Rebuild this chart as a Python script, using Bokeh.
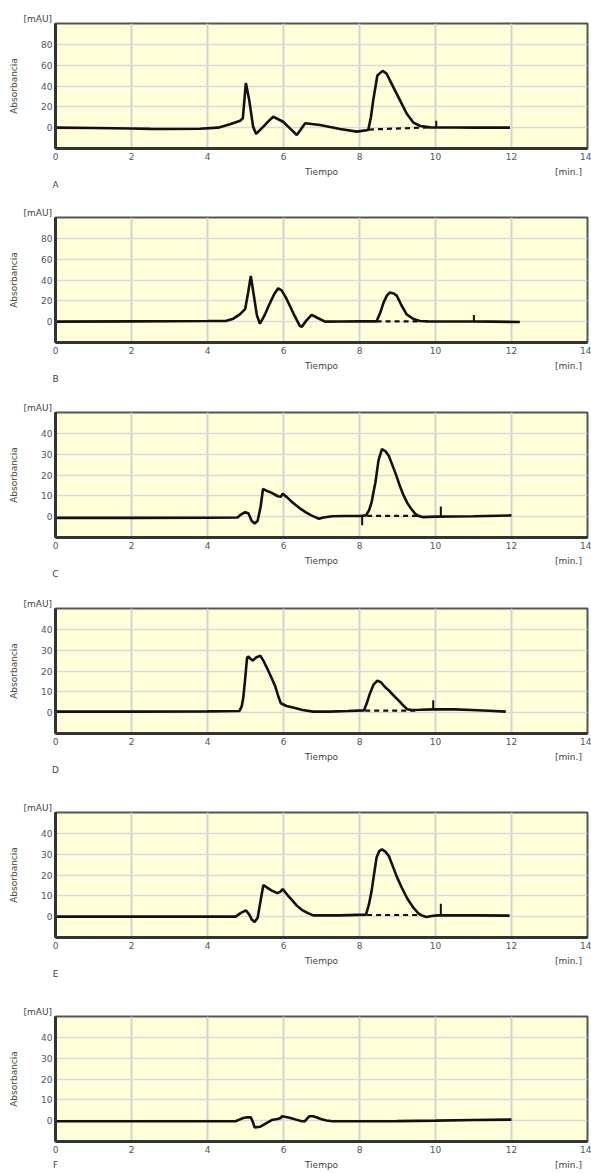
from bokeh.plotting import figure
from bokeh.layouts import column
from bokeh.models import Range1d, FixedTicker, LinearAxis, Title
from bokeh.embed import file_html
from bokeh.resources import INLINE

# ---------------- data ----------------
panel_letters = ["A", "B", "C", "D", "E", "F"]
x_ticks = [0, 2, 4, 6, 8, 10, 12, 14]
y_ticks_big = [0, 20, 40, 60, 80]
y_ticks_small = [0, 10, 20, 30, 40]
x_title = "Tiempo"
x_unit = "[min.]"
y_title = "Absorbancia"
y_unit = "[mAU]"

a_time = [0, 1, 2, 2.5, 3, 3.8, 4.28, 4.59, 4.86, 4.93, 5.01, 5.10, 5.20, 5.28, 5.47, 5.60, 5.73, 5.99,
          6.15, 6.33, 6.35, 6.45, 6.57, 6.96, 7.49, 7.93, 8.23, 8.30, 8.36, 8.47, 8.61, 8.71, 8.89,
          9.07, 9.24, 9.42, 9.60, 9.86, 10.5, 11.0, 11.5, 11.96]
a_abs = [0, -0.3, -0.8, -1.2, -1.3, -1.0, 0, 3.2, 6.7, 9, 43, 26, 1, -6, 1, 6, 10.5, 5.7,
         0, -6.3, -7, -2, 4.2, 2.5, -1.3, -3.8, -2.2, 10, 26, 50, 54.5, 52, 39,
         26, 13.6, 4.8, 1.6, 0.3, 0.1, 0, 0, 0]
a_base_x = [8.25, 9.85]
a_base_y = [-1.8, 0.3]
a_mark_x = [10.02]
a_mark_bot = [0.2]
a_mark_top = [6.7]

b_time = [0, 2, 4, 4.5, 4.68, 4.85, 4.99, 5.07, 5.14, 5.22, 5.30, 5.38, 5.50, 5.62, 5.75, 5.86, 5.95,
          6.05, 6.17, 6.30, 6.43, 6.48, 6.60, 6.74, 6.90, 7.09, 7.5, 8.0, 8.45, 8.55, 8.63, 8.72,
          8.80, 8.90, 8.98, 9.10, 9.24, 9.42, 9.59, 9.80, 10.5, 11.0, 11.5, 12.22]
b_abs = [0, 0.3, 0.6, 0.8, 2.9, 7, 12, 28, 44, 25, 6, -2, 6, 16, 26, 32, 30,
         24, 15, 5, -4, -5, 1, 6.5, 3.5, 0, 0.2, 0.3, 0.3, 9, 18, 25,
         28, 27, 25, 16, 7, 2.6, 0.7, 0.3, 0.2, 0.2, 0, -0.3]
b_base_x = [8.45, 9.6]
b_base_y = [0.3, 0.3]
b_mark_x = [11.01]
b_mark_bot = [0.2]
b_mark_top = [6.5]

c_time = [0, 2, 4, 4.79, 4.88, 4.99, 5.08, 5.16, 5.24, 5.32, 5.40, 5.46, 5.55, 5.69, 5.85, 5.93,
          5.98, 6.08, 6.18, 6.28, 6.43, 6.58, 6.73, 6.88, 6.93, 7.05, 7.28, 7.6, 8.02, 8.17, 8.25,
          8.32, 8.37, 8.42, 8.50, 8.59, 8.68, 8.77, 8.87, 8.97, 9.06, 9.16, 9.26, 9.36, 9.46, 9.56,
          9.66, 10.0, 11.0, 12.0]
c_abs = [-0.6, -0.6, -0.5, -0.4, 1, 2.2, 1.5, -2, -3.3, -2, 5, 13.3, 12.5, 11.4, 9.8, 9.6,
         11, 9.5, 7.8, 6.2, 4, 2.2, 0.6, -0.6, -1, -0.4, 0.2, 0.3, 0.3, 0.6, 3,
         7, 12, 16.5, 27, 32.4, 31.5, 29.2, 24.5, 19.7, 14.8, 10.2, 6.5, 3.8, 1.5, 0.3,
         -0.2, 0, 0.2, 0.6]
c_base_x = [8.2, 9.6]
c_base_y = [0.4, 0.4]
c_mark_x = [8.07, 10.14]
c_mark_bot = [-4.1, 0.1]
c_mark_top = [0.3, 4.9]

d_time = [0, 2, 4, 4.84, 4.90, 4.94, 4.99, 5.04, 5.07, 5.12, 5.19, 5.28, 5.39, 5.47, 5.59, 5.69,
          5.79, 5.86, 5.93, 6.08, 6.30, 6.50, 6.78, 7.2, 7.7, 8.12, 8.20, 8.27, 8.37, 8.47, 8.57,
          8.67, 8.77, 8.91, 9.06, 9.16, 9.26, 9.36, 9.6, 9.96, 10.5, 10.95, 11.4, 11.85]
d_abs = [0.5, 0.5, 0.6, 0.8, 3, 7, 16, 26.2, 27, 26, 25, 26.5, 27.4, 25, 20.5, 16.5,
         12.3, 8, 4.5, 3.2, 2.2, 1.3, 0.5, 0.5, 0.8, 1.1, 5, 9, 13.5, 15.4, 14.5,
         12.3, 10.7, 8, 5.3, 3.3, 1.6, 1.3, 1.4, 1.6, 1.6, 1.3, 0.9, 0.5]
d_base_x = [8.15, 9.5]
d_base_y = [1.0, 1.0]
d_mark_x = [9.94]
d_mark_bot = [1.6]
d_mark_top = [6.0]

e_time = [0, 2, 4, 4.74, 4.88, 5.01, 5.10, 5.17, 5.24, 5.32, 5.40, 5.47, 5.58, 5.69, 5.84, 5.92,
          5.98, 6.10, 6.23, 6.35, 6.48, 6.63, 6.78, 7.1, 7.48, 8.17, 8.25, 8.32, 8.38, 8.45, 8.52,
          8.59, 8.68, 8.77, 8.87, 8.97, 9.11, 9.26, 9.41, 9.56, 9.66, 9.76, 9.9, 10.06, 11.0, 11.95]
e_abs = [0, 0, 0, 0, 1.8, 3, 1, -1.5, -2.5, -0.5, 8, 15.2, 13.8, 12.5, 11.3, 12,
         13.2, 10.5, 7.8, 5.3, 3.3, 1.8, 0.6, 0.6, 0.6, 1, 6, 12.5, 20, 28.4, 31.5,
         32.3, 31.2, 29.2, 24.5, 19.7, 14, 8.6, 4.5, 1.4, 0.4, -0.2, 0.3, 0.6, 0.6, 0.5]
e_base_x = [8.2, 9.6]
e_base_y = [0.8, 0.8]
e_mark_x = [10.14]
e_mark_bot = [0.6]
e_mark_top = [6.2]

f_time = [0, 2, 4, 4.74, 4.84, 4.94, 5.04, 5.14, 5.19, 5.24, 5.39, 5.54, 5.69, 5.84, 5.93, 5.96,
          6.07, 6.18, 6.33, 6.48, 6.56, 6.62, 6.68, 6.78, 6.88, 6.98, 7.13, 7.28, 8.0, 9.0, 10.0,
          11.0, 12.0]
f_abs = [-0.3, -0.3, -0.3, -0.3, 0.5, 1.3, 1.6, 1.6, -0.5, -3.2, -2.9, -1.3, 0.3, 0.8, 1.3, 2.1,
         1.8, 1.3, 0.5, -0.3, -0.3, 1, 2.1, 2.1, 1.5, 0.8, 0.1, -0.3, -0.3, -0.2, 0,
         0.3, 0.5]

# ---------------- styling ----------------
FONT = "DejaVu Sans"
FS = "9px"
BG = "#FFFFDA"
TXT = "#444444"
INK = "#111111"


def text_axis(ticks, labels, standoff):
    ax = LinearAxis(ticker=FixedTicker(ticks=ticks),
                    major_label_overrides=dict(zip(ticks, labels)))
    ax.axis_line_color = None
    ax.major_tick_line_color = None
    ax.minor_tick_line_color = None
    ax.major_tick_out = 0
    ax.major_tick_in = 0
    ax.major_label_standoff = standoff
    ax.major_label_text_font = FONT
    ax.major_label_text_font_size = FS
    ax.major_label_text_color = TXT
    return ax


def make_panel(letter, t, a, y_lo, y_hi, y_ticks, top_border, bottom_border,
               base_x=None, base_y=None, mark_x=None, mark_bot=None, mark_top=None,
               letter_row=True):
    p = figure(frame_width=532, frame_height=125,
               x_range=Range1d(0, 14), y_range=Range1d(y_lo, y_hi),
               output_backend="svg", toolbar_location=None,
               min_border_left=55, min_border_right=4, min_border_top=top_border,
               min_border_bottom=bottom_border)
    p.background_fill_color = BG
    p.border_fill_color = "white"
    p.outline_line_color = "#555555"
    p.outline_line_width = 2

    p.xaxis.ticker = FixedTicker(ticks=x_ticks)
    p.yaxis.ticker = FixedTicker(ticks=y_ticks)
    for ax in (p.xaxis, p.yaxis):
        ax.major_tick_line_color = None
        ax.minor_tick_line_color = None
        ax.major_tick_out = 0
        ax.major_tick_in = 0
        ax.axis_line_color = "#333333"
        ax.axis_line_width = 3
        ax.major_label_text_font = FONT
        ax.major_label_text_font_size = FS
        ax.major_label_text_color = "#555555"
    p.xaxis.major_label_standoff = 4
    p.yaxis.major_label_standoff = 3

    p.yaxis.axis_label = y_title
    p.yaxis.axis_label_text_font = FONT
    p.yaxis.axis_label_text_font_size = FS
    p.yaxis.axis_label_text_font_style = "normal"
    p.yaxis.axis_label_text_color = TXT
    p.yaxis.axis_label_standoff = 19

    p.xgrid.grid_line_color = "#D3D3D3"
    p.xgrid.grid_line_width = 2
    p.ygrid.grid_line_color = "#DADADA"
    p.ygrid.grid_line_width = 1.5

    # unit label above the y axis
    p.title.text = y_unit
    p.title.align = "left"
    p.title.offset = -32
    p.title.standoff = 0
    p.title.text_font = FONT
    p.title.text_font_size = FS
    p.title.text_font_style = "normal"
    p.title.text_color = TXT

    # "Tiempo" and "[min.]" row, then the panel letter
    if letter_row:
        p.add_layout(text_axis([7, 13.5], [x_title, x_unit], 4), "below")
        p.add_layout(text_axis([0], [letter], 0), "below")
    else:
        p.add_layout(text_axis([0, 7, 13.5], [letter, x_title, x_unit], 4), "below")

    p.line(t, a, line_color=INK, line_width=2.6)
    if base_x is not None:
        p.line(base_x, base_y, line_color=INK, line_width=2.2, line_dash="5 4")
    if mark_x is not None:
        p.segment(x0=mark_x, y0=mark_bot, x1=mark_x, y1=mark_top,
                  line_color=INK, line_width=2)
    return p


pA = make_panel(panel_letters[0], a_time, a_abs, -20, 100, y_ticks_big, 23, 54,
                a_base_x, a_base_y, a_mark_x, a_mark_bot, a_mark_top)
pB = make_panel(panel_letters[1], b_time, b_abs, -20, 100, y_ticks_big, 15, 55,
                b_base_x, b_base_y, b_mark_x, b_mark_bot, b_mark_top)
pC = make_panel(panel_letters[2], c_time, c_abs, -10, 50, y_ticks_small, 15, 56,
                c_base_x, c_base_y, c_mark_x, c_mark_bot, c_mark_top)
pD = make_panel(panel_letters[3], d_time, d_abs, -10, 50, y_ticks_small, 15, 64,
                d_base_x, d_base_y, d_mark_x, d_mark_bot, d_mark_top)
pE = make_panel(panel_letters[4], e_time, e_abs, -10, 50, y_ticks_small, 15, 64,
                e_base_x, e_base_y, e_mark_x, e_mark_bot, e_mark_top)
pF = make_panel(panel_letters[5], f_time, f_abs, -10, 50, y_ticks_small, 15, 32,
                letter_row=False)

layout = column(pA, pB, pC, pD, pE, pF, spacing=0)
open("out.html", "w").write(file_html(layout, INLINE))
